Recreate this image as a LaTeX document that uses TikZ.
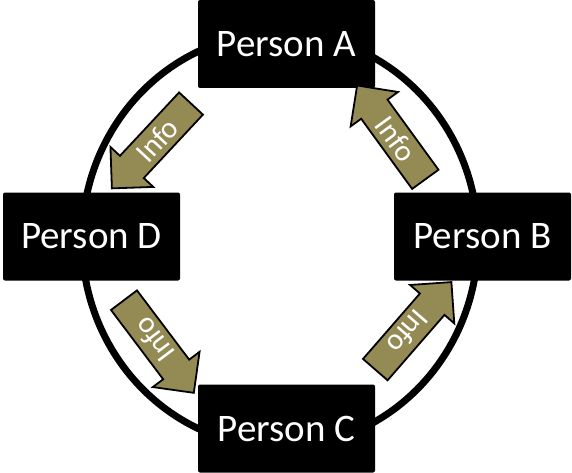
\documentclass[tikz,border=0pt]{standalone}
\usepackage{fontspec}
\setmainfont{Carlito}
\usetikzlibrary{shapes.arrows}
\definecolor{infoolive}{RGB}{148,138,84}

\begin{document}
\begin{tikzpicture}[
x=1pt,y=-1pt,
person/.style={fill=black,rounded corners=2pt,minimum width=177pt,minimum height=88pt,inner sep=0pt,text=white,font=\fontsize{39}{44}\selectfont},
info/.style={single arrow,shape border rotate=180,draw=black,line width=1.8pt,fill=infoolive,text=white,font=\fontsize{30}{32}\selectfont,minimum height=116pt,single arrow head extend=13pt,inner ysep=5pt,inner xsep=2pt},
ring/.style={line width=7pt}
]
\useasboundingbox (0,0) rectangle (572,473);
% the ring behind the four people
\coordinate (mid) at (280,240);
\draw[ring] (mid) ellipse [x radius=198, y radius=207];
\node[person] (pA) at (286.5,44) {Person A};
\node[person] (pD) at (91.5,236.5) {Person D};
\node[person] (pB) at (482.5,236.5) {Person B};
\node[person] (pC) at (286.5,428.5) {Person C};
% info arrows, text runs opposite to the arrow
\node[info,rotate=47] (iAD) at (157,140) {Info};
\node[info,rotate=127] (iDC) at (154,340) {Info};
\node[info,rotate=229] (iCB) at (408,332) {Info};
\node[info,rotate=-54] (iBA) at (396,139) {Info};
\end{tikzpicture}
\end{document}
